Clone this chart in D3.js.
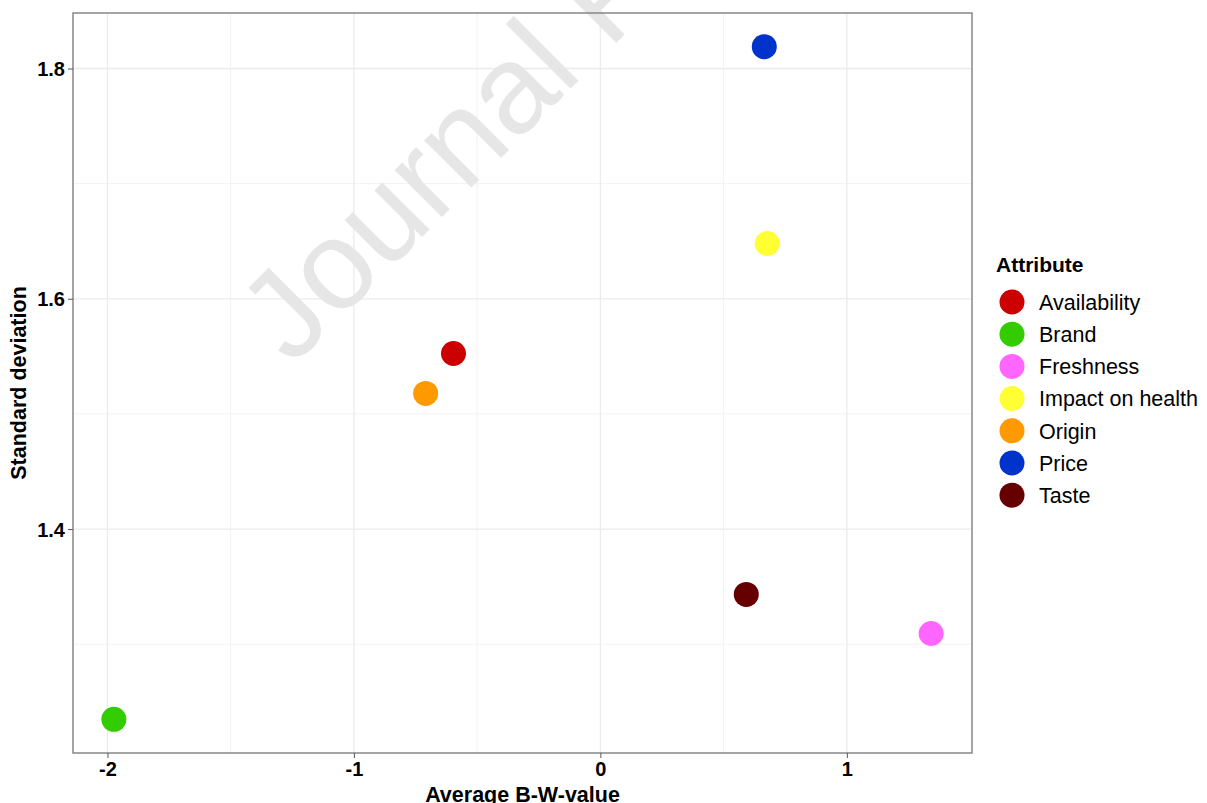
<!DOCTYPE html>
<html>
<head>
<meta charset="utf-8">
<script src="https://cdn.jsdelivr.net/npm/d3@7"></script>
<style>
  body { margin: 0; background: #fff; }
  text { font-family: "Liberation Sans", Arial, sans-serif; }
</style>
</head>
<body>
<div class="canvas"></div>
<script>
// data
const attributes = ['Availability', 'Brand', 'Freshness', 'Impact on health', 'Origin', 'Price', 'Taste']
const avgBW = [-0.596, -1.974, 1.342, 0.677, -0.709, 0.665, 0.592]
const stdDev = [1.5525, 1.2347, 1.3093, 1.648, 1.5178, 1.819, 1.3432]
const colors = ['#CC0000', '#33CC00', '#FF66FF', '#FFFF33', '#FF9900', '#0033CC', '#660000']
const xTicks = [-2, -1, 0, 1]
const xMinor = [-1.5, -0.5, 0.5]
const yTicks = [1.4, 1.6, 1.8]
const yMinor = [1.3, 1.5, 1.7]

const dims = { width: 1207, height: 803 }
const panel = { left: 73, top: 13, right: 972, bottom: 753 }

const svg = d3.select('.canvas')
  .append('svg')
  .attr('width', dims.width)
  .attr('height', dims.height)

// ggplot-style 5% expansion
const xExt = d3.extent(avgBW)
const yExt = d3.extent(stdDev)
const xPad = (xExt[1] - xExt[0]) * 0.05
const yPad = (yExt[1] - yExt[0]) * 0.05

const x = d3.scaleLinear()
  .domain([xExt[0] - xPad, xExt[1] + xPad])
  .range([panel.left, panel.right])

const y = d3.scaleLinear()
  .domain([yExt[0] - yPad, yExt[1] + yPad])
  .range([panel.bottom, panel.top])

const color = d3.scaleOrdinal().domain(attributes).range(colors)

const points = attributes.map((name, i) => ({ name, x: avgBW[i], y: stdDev[i] }))

// grid
const grid = svg.append('g')
grid.selectAll('.vminor').data(xMinor).enter().append('line')
  .attr('x1', d => x(d)).attr('x2', d => x(d))
  .attr('y1', panel.top).attr('y2', panel.bottom)
  .attr('stroke', '#F2F2F2').attr('stroke-width', 1)
grid.selectAll('.hminor').data(yMinor).enter().append('line')
  .attr('y1', d => y(d)).attr('y2', d => y(d))
  .attr('x1', panel.left).attr('x2', panel.right)
  .attr('stroke', '#F2F2F2').attr('stroke-width', 1)
grid.selectAll('.vmajor').data(xTicks).enter().append('line')
  .attr('x1', d => x(d)).attr('x2', d => x(d))
  .attr('y1', panel.top).attr('y2', panel.bottom)
  .attr('stroke', '#EBEBEB').attr('stroke-width', 1.3)
grid.selectAll('.hmajor').data(yTicks).enter().append('line')
  .attr('y1', d => y(d)).attr('y2', d => y(d))
  .attr('x1', panel.left).attr('x2', panel.right)
  .attr('stroke', '#EBEBEB').attr('stroke-width', 1.3)

// watermark (cut off at the top in the source image too)
svg.append('text')
  .attr('transform', 'translate(292, 367) rotate(-45)')
  .attr('font-size', 126)
  .attr('fill', '#E6E6E6')
  .text('Journal Pre-proof')

// panel border
svg.append('rect')
  .attr('x', panel.left).attr('y', panel.top)
  .attr('width', panel.right - panel.left)
  .attr('height', panel.bottom - panel.top)
  .attr('fill', 'none')
  .attr('stroke', '#7F7F7F')
  .attr('stroke-width', 1.4)

// axes
const xAxis = svg.append('g')
  .attr('transform', `translate(0, ${panel.bottom})`)
  .call(d3.axisBottom(x).tickValues(xTicks).tickFormat(d => String(d)).tickSize(5).tickPadding(4))
const yAxis = svg.append('g')
  .attr('transform', `translate(${panel.left}, 0)`)
  .call(d3.axisLeft(y).tickValues(yTicks).tickFormat(d => d.toFixed(1)).tickSize(5).tickPadding(3))

;[xAxis, yAxis].forEach(ax => {
  ax.select('.domain').remove()
  ax.selectAll('.tick line').attr('stroke', '#555')
  ax.selectAll('.tick text')
    .attr('font-family', '"Liberation Sans", Arial, sans-serif')
    .attr('font-size', 20)
    .attr('font-weight', 'bold')
    .attr('fill', '#000')
})
xAxis.selectAll('.tick text').attr('dy', '0.75em').attr('transform', 'translate(0, -1)')
yAxis.selectAll('.tick text').attr('dy', '0.36em')

// axis titles
svg.append('text')
  .attr('x', (panel.left + panel.right) / 2)
  .attr('y', 802)
  .attr('text-anchor', 'middle')
  .attr('font-size', 21.5)
  .attr('font-weight', 'bold')
  .text('Average B-W-value')

svg.append('text')
  .attr('transform', `translate(26, ${(panel.top + panel.bottom) / 2}) rotate(-90)`)
  .attr('text-anchor', 'middle')
  .attr('font-size', 21.5)
  .attr('font-weight', 'bold')
  .text('Standard deviation')

// points
svg.append('g').selectAll('circle')
  .data(points)
  .enter()
  .append('circle')
    .attr('cx', d => x(d.x))
    .attr('cy', d => y(d.y))
    .attr('r', 12.5)
    .attr('fill', d => color(d.name))

// legend
const legend = svg.append('g')
  .attr('transform', 'translate(996, 0)')

legend.append('text')
  .attr('x', 0).attr('y', 272)
  .attr('font-size', 21)
  .attr('font-weight', 'bold')
  .text('Attribute')

const items = legend.selectAll('.item')
  .data(attributes)
  .enter()
  .append('g')
    .attr('class', 'item')
    .attr('transform', (d, i) => `translate(0, ${302 + i * 32.2})`)

items.append('circle')
  .attr('cx', 16)
  .attr('r', 12.5)
  .attr('fill', d => color(d))

items.append('text')
  .attr('x', 43)
  .attr('dy', '0.36em')
  .attr('font-size', 21.5)
  .text(d => d)
</script>
</body>
</html>
